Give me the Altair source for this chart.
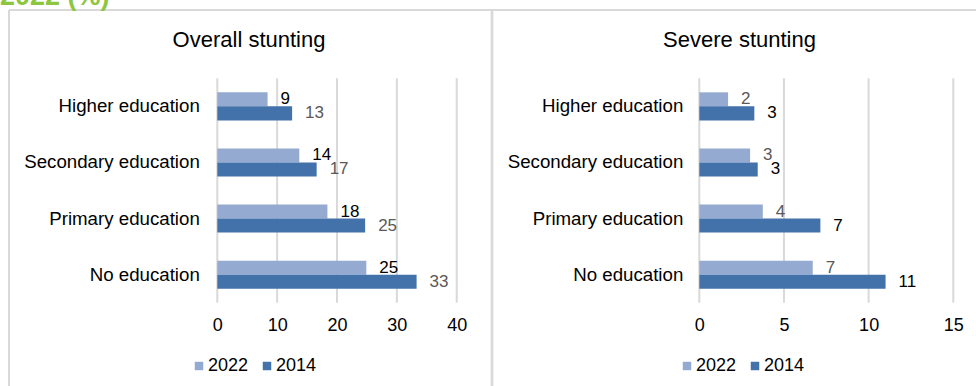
import altair as alt
import pandas as pd

# ---------------- data ----------------
categories = ["Higher education\u00a0", "Secondary education", "Primary education", "No education"]
years = ["2022", "2014"]

overall_2022 = [8.4, 13.7, 18.4, 24.9]
overall_2014 = [12.5, 16.6, 24.7, 33.3]
overall_2022_labels = ["9", "14", "18", "25"]
overall_2014_labels = ["13", "17", "25", "33"]

severe_2022 = [1.7, 3.0, 3.75, 6.7]
severe_2014 = [3.25, 3.45, 7.15, 11.0]
severe_2022_labels = ["2", "3", "4", "7"]
severe_2014_labels = ["3", "3", "7", "11"]

overall_ticks = [0, 10, 20, 30, 40]
severe_ticks = [0, 5, 10, 15]

panel_titles = ["Overall stunting", "Severe stunting"]
header_text = ["2022 (%)"]

# ---------------- styles ----------------
FONT = "Liberation Sans"
BAR_COLORS = ["#95AAD0", "#4372AA"]
GRID = "#D9D9D9"
PLOT_TOP, PLOT_BOTTOM = 78.3, 302.7
W, H = 976, 386


def make_df(v22, v14, l22, l14):
    rows = []
    for c, v, l in zip(categories, v22, l22):
        rows.append({"category": c, "year": "2022", "value": v, "label": l})
    for c, v, l in zip(categories, v14, l14):
        rows.append({"category": c, "year": "2014", "value": v, "label": l})
    return pd.DataFrame(rows)


def panel(df, ticks, domain, xrange, label_colors, legend_x, label_pad):
    xs = alt.Scale(domain=domain, range=xrange, nice=False, zero=True)
    ys = alt.Scale(domain=categories, range=[PLOT_TOP, PLOT_BOTTOM],
                   paddingInner=0.5, paddingOuter=0.25)
    yo = alt.Scale(domain=years)
    tick_df = pd.DataFrame({"tick": ticks})

    grid = alt.Chart(tick_df).mark_rule(color=GRID, strokeWidth=2).encode(
        x=alt.X("tick:Q", scale=xs, title=None,
                axis=alt.Axis(orient="bottom", offset=PLOT_BOTTOM - H, values=ticks,
                              grid=False, ticks=False, domain=False,
                              labelFont=FONT, labelFontSize=18, labelColor="#000",
                              labelPadding=14, labelFlush=False, format="d")),
        y=alt.value(PLOT_TOP),
        y2=alt.value(PLOT_BOTTOM),
    )

    bars = alt.Chart(df).mark_bar().encode(
        x=alt.X("value:Q", scale=xs, title=None),
        y=alt.Y("category:N", scale=ys, sort=categories, title=None,
                axis=alt.Axis(orient="left", offset=-xrange[0], ticks=False, domain=False,
                              grid=False, labelFont=FONT, labelFontSize=18.7,
                              labelColor="#000", labelPadding=label_pad, labelLimit=400)),
        yOffset=alt.YOffset("year:N", sort=years, scale=yo),
        color=alt.Color("year:N", sort=years,
                        scale=alt.Scale(domain=years, range=BAR_COLORS),
                        legend=alt.Legend(orient="none", legendX=legend_x, legendY=357,
                                          direction="horizontal", title=None,
                                          symbolType="square", symbolSize=72,
                                          symbolStrokeWidth=0,
                                          labelFont=FONT, labelFontSize=18,
                                          labelColor="#000", labelOffset=0,
                                          columnPadding=9, padding=0)),
    )

    label_layers = []
    for yr, col in zip(years, label_colors):
        label_layers.append(
            alt.Chart(df).transform_filter(alt.datum.year == yr)
            .mark_text(align="left", baseline="middle", dx=13, font=FONT,
                       fontSize=17, color=col)
            .encode(
                x=alt.X("value:Q", scale=xs, title=None),
                y=alt.Y("category:N", scale=ys, sort=categories, title=None),
                yOffset=alt.YOffset("year:N", sort=years, scale=yo),
                text="label:N",
            )
        )
    return alt.layer(grid, bars, *label_layers)


left = panel(make_df(overall_2022, overall_2014, overall_2022_labels, overall_2014_labels),
             overall_ticks, [0, 40], [217.3, 456.7], ["#000", "#595959"], 190, 18)
right = panel(make_df(severe_2022, severe_2014, severe_2022_labels, severe_2014_labels),
              severe_ticks, [0, 15], [699.3, 953.3], ["#595959", "#000"], 678, 16.5)

# ---------------- decorations ----------------
one = pd.DataFrame({"k": [0]})
border_left = alt.Chart(one).mark_rule(color=GRID, strokeWidth=2).encode(
    x=alt.value(9), y=alt.value(10), y2=alt.value(H))
border_top = alt.Chart(one).mark_rule(color=GRID, strokeWidth=2).encode(
    x=alt.value(9), x2=alt.value(W), y=alt.value(10))
border_mid = alt.Chart(one).mark_rule(color=GRID, strokeWidth=2.7).encode(
    x=alt.value(492), y=alt.value(10), y2=alt.value(H))

title_left = alt.Chart(pd.DataFrame({"t": [panel_titles[0]]})).mark_text(
    font=FONT, fontSize=22, color="#000", align="center", baseline="alphabetic"
).encode(text="t:N", x=alt.value(249), y=alt.value(47))
title_right = alt.Chart(pd.DataFrame({"t": [panel_titles[1]]})).mark_text(
    font=FONT, fontSize=22, color="#000", align="center", baseline="alphabetic"
).encode(text="t:N", x=alt.value(739.5), y=alt.value(47))

header = alt.Chart(pd.DataFrame({"t": header_text})).mark_text(
    font=FONT, fontSize=27, fontWeight="bold", color="#8DC63F", align="left",
    baseline="alphabetic"
).encode(text="t:N", x=alt.value(0), y=alt.value(5))

chart = alt.layer(
    border_left, border_top, border_mid, header, title_left, title_right, left, right
).resolve_scale(
    x="independent", y="independent", color="independent"
).properties(
    width=W, height=H, padding=0, autosize=alt.AutoSizeParams(type="none"),
    background="white"
).configure_view(stroke=None)

chart.save("out.html", embed_options={"renderer": "svg", "actions": False})
